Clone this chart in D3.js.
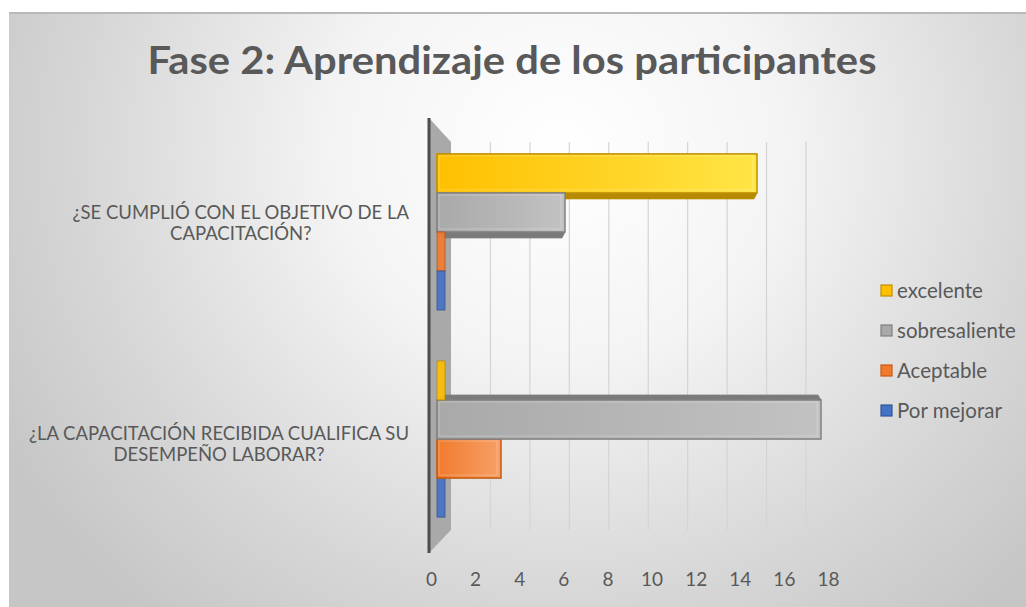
<!DOCTYPE html>
<html><head><meta charset="utf-8">
<script src="https://cdn.jsdelivr.net/npm/d3@7"></script>
<style>html,body{margin:0;padding:0;background:#fff;} svg{display:block}</style>
</head><body>
<svg id="chart" width="1026" height="607"></svg>
<script>
// ---- data ----
const title = "Fase 2: Aprendizaje de los participantes";
const categories = [
  "¿SE CUMPLIÓ CON EL OBJETIVO DE LA CAPACITACIÓN?",
  "¿LA CAPACITACIÓN RECIBIDA CUALIFICA SU DESEMPEÑO LABORAR?"
];
const seriesNames = ["excelente", "sobresaliente", "Aceptable", "Por mejorar"];
const excelente     = [15, 0];
const sobresaliente = [6, 18];
const aceptable     = [0, 3];
const porMejorar    = [0, 0];
const tickValues = [0, 2, 4, 6, 8, 10, 12, 14, 16, 18];

const seriesValues = [excelente, sobresaliente, aceptable, porMejorar];
const fills   = ["#FFC000", "#A9A9A9", "#F07B2E", "#4472C4"];
const lights  = ["#FFE545", "#C2C2C2", "#F6A066", "#5B87D6"];
const strokes = ["#BF9000", "#808080", "#C55A11", "#2F5597"];
const darks   = ["#B58A00", "#7A7A7A", "#B4541A", "#2E4F8C"];
const textColor = "#595959";
const font = "Lato, 'Open Sans', sans-serif";

const svg = d3.select("#chart");
const defs = svg.append("defs");

// background
const bg = defs.append("radialGradient").attr("id", "bg")
  .attr("gradientUnits", "userSpaceOnUse")
  .attr("cx", 560).attr("cy", 150).attr("r", 640)
  .attr("gradientTransform", "translate(560,150) scale(1,0.95) translate(-560,-150)");
bg.append("stop").attr("offset", 0).attr("stop-color", "#ffffff");
bg.append("stop").attr("offset", 0.35).attr("stop-color", "#f4f4f4");
bg.append("stop").attr("offset", 0.75).attr("stop-color", "#d6d6d6");
bg.append("stop").attr("offset", 1).attr("stop-color", "#c6c6c6");

svg.append("rect").attr("x", 9).attr("y", 12).attr("width", 1017).attr("height", 595)
  .attr("fill", "url(#bg)");
svg.append("line").attr("x1", 9).attr("x2", 1026).attr("y1", 13).attr("y2", 13)
  .attr("stroke", "#b9b9b9").attr("stroke-width", 2);

// gradients for bar faces
seriesNames.forEach((s, j) => {
  const g = defs.append("linearGradient").attr("id", "bar" + j)
    .attr("x1", 0).attr("x2", 1).attr("y1", 0).attr("y2", 0);
  g.append("stop").attr("offset", 0).attr("stop-color", fills[j]);
  g.append("stop").attr("offset", 1).attr("stop-color", lights[j]);
});

// ---- title ----
svg.append("text").attr("x", 512).attr("y", 74)
  .attr("text-anchor", "middle").attr("font-family", font).attr("font-weight", 700)
  .attr("font-size", 39).attr("fill", textColor)
  .attr("textLength", 729).attr("lengthAdjust", "spacingAndGlyphs")
  .text(title);

// ---- scales ----
const xBack  = d3.scaleLinear().domain([0, 18]).range([451, 806]);
const xBar   = d3.scaleLinear().domain([0, 18]).range([437, 821]);
const xFront = d3.scaleLinear().domain([0, 18]).range([431, 828]);
const yBar = d3.scaleBand().domain(categories).range([128, 543])
  .paddingInner(0.246).paddingOuter(0.125);
const yLabel = d3.scaleBand().domain(categories).range([113, 554])
  .paddingInner(0.246).paddingOuter(0.125);
const ySeries = d3.scaleBand().domain(seriesNames).range([0, yBar.bandwidth()]);

// ---- back wall gridlines ----
svg.append("g").selectAll("line").data(tickValues.filter(v => v > 0)).join("line")
  .attr("x1", d => xBack(d)).attr("x2", d => xBack(d))
  .attr("y1", 142).attr("y2", 530)
  .attr("stroke", "#d4d4d4").attr("stroke-width", 1.2);

// ---- side wall ----
svg.append("polygon")
  .attr("points", [[429, 118], [451, 142], [451, 530], [429, 553]].map(p => p.join(",")).join(" "))
  .attr("fill", "#a9a9a9");
svg.append("line").attr("x1", 429).attr("x2", 429).attr("y1", 118).attr("y2", 553)
  .attr("stroke", "#4d4d4d").attr("stroke-width", 3);

// ---- bars ----
const depthX = 8, depthY = 6;
categories.forEach((cat, i) => {
  const order = i === 0 ? [0, 1, 2, 3] : [3, 2, 1, 0];
  const g = svg.append("g");
  order.forEach(j => {
    const v = seriesValues[j][i];
    const y = yBar(cat) + ySeries(seriesNames[j]);
    const h = ySeries.bandwidth();
    const x0 = xBar(0), x1 = xBar(v);
    g.append("rect").attr("x", x0).attr("y", y).attr("width", depthX).attr("height", h)
      .attr("fill", fills[j]).attr("stroke", darks[j]).attr("stroke-width", 0.8)
      .attr("opacity", 0.9);
    if (v > 0) {
      let pts;
      if (i === 0) {
        pts = [[x0, y + h], [x1, y + h], [x1 - 3, y + h + depthY], [x0 + depthX, y + h + depthY]];
      } else {
        pts = [[x0 + depthX, y - depthY + 1], [x1 - 3, y - depthY + 1], [x1, y], [x0, y]];
      }
      g.append("polygon").attr("points", pts.map(p => p.join(",")).join(" "))
        .attr("fill", darks[j]).attr("stroke", strokes[j]).attr("stroke-width", 0.8);
      g.append("rect").attr("x", x0).attr("y", y).attr("width", x1 - x0).attr("height", h)
        .attr("fill", "url(#bar" + j + ")").attr("stroke", strokes[j]).attr("stroke-width", 1.5);
      g.append("rect").attr("x", x0 + 2).attr("y", y + 2).attr("width", Math.max(0, x1 - x0 - 6)).attr("height", h - 5)
        .attr("fill", "none").attr("stroke", "#ffffff").attr("stroke-opacity", 0.25).attr("stroke-width", 1);
    }
  });
});

// ---- x axis labels ----
const xAxis = d3.axisBottom(xFront).tickValues(tickValues).tickSize(0).tickPadding(0);
const ax = svg.append("g").attr("transform", "translate(0,572)").call(xAxis);
ax.select(".domain").remove();
ax.selectAll("text").attr("font-family", font).attr("font-size", 19)
  .attr("fill", textColor).attr("dy", "0.71em");

// ---- category labels ----
function measure(str, fs) {
  const tmp = svg.append("text").attr("font-family", font).attr("font-size", fs).text(str);
  const w = tmp.node().getComputedTextLength();
  tmp.remove();
  return w;
}
function wrap(str, maxW, fs) {
  const words = str.split(" ");
  const lines = [];
  let cur = "";
  words.forEach(w => {
    const test = cur ? cur + " " + w : w;
    if (measure(test, fs) > maxW && cur) { lines.push(cur); cur = w; }
    else cur = test;
  });
  if (cur) lines.push(cur);
  return lines;
}
const catFs = 18.5;
const labelRight = 409;
categories.forEach(cat => {
  const lines = wrap(cat, 400, catFs);
  const maxW = d3.max(lines, l => measure(l, catFs));
  const cx = labelRight - maxW / 2;
  const cy = yLabel(cat) + yLabel.bandwidth() / 2;
  const lh = 21;
  const txt = svg.append("text").attr("font-family", font).attr("font-size", catFs)
    .attr("fill", textColor).attr("text-anchor", "middle");
  lines.forEach((ln, k) => {
    txt.append("tspan").attr("x", cx)
      .attr("y", cy + (k - (lines.length - 1) / 2) * lh).attr("dy", "0.35em").text(ln);
  });
});

// ---- legend ----
const yLeg = d3.scaleBand().domain(seriesNames).range([271, 431]);
const leg = svg.append("g");
seriesNames.forEach((s, j) => {
  const cy = yLeg(s) + yLeg.bandwidth() / 2;
  leg.append("rect").attr("x", 881).attr("y", cy - 6).attr("width", 11).attr("height", 11)
    .attr("fill", fills[j]).attr("stroke", strokes[j]).attr("stroke-width", 1.2);
  leg.append("text").attr("x", 897).attr("y", cy).attr("dy", "0.35em")
    .attr("font-family", font).attr("font-size", 20.5).attr("fill", textColor).text(s);
});
</script>
</body></html>
